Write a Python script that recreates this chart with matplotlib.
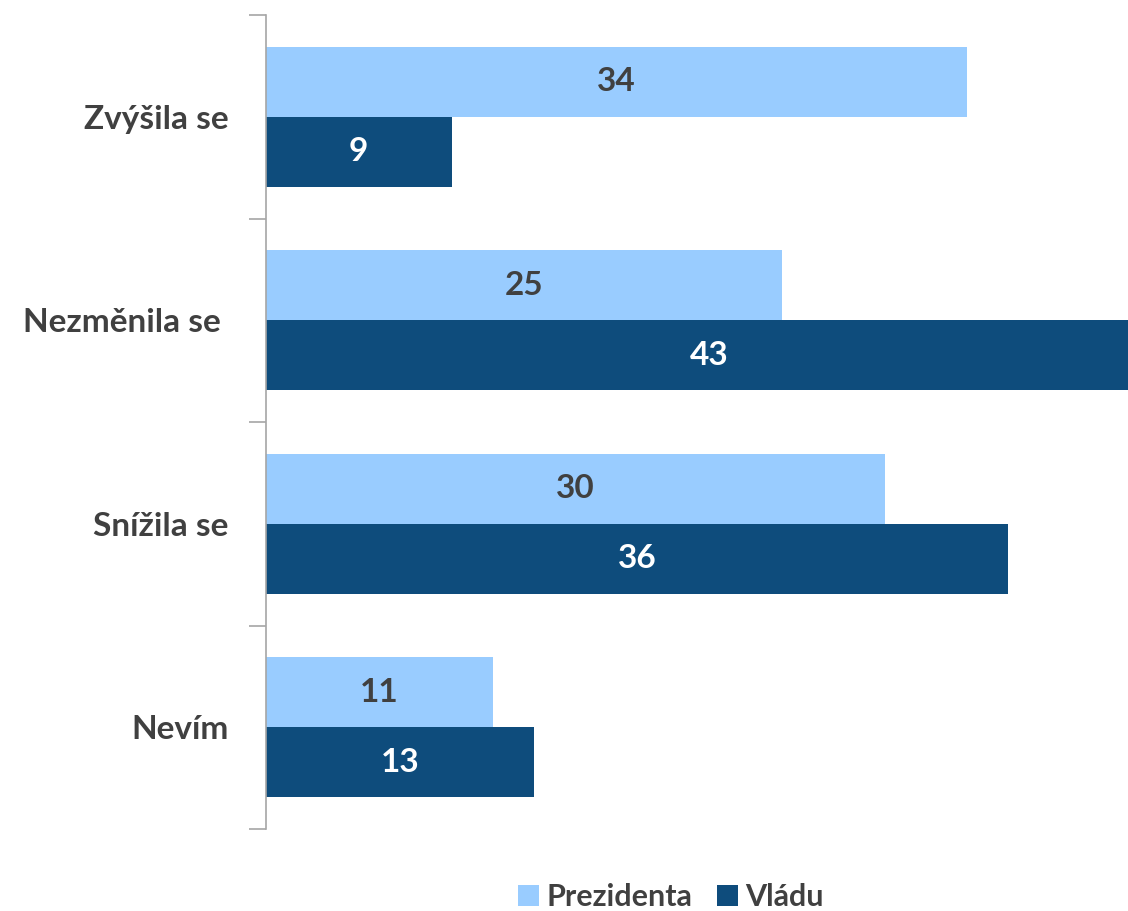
import matplotlib
matplotlib.use("Agg")
import matplotlib.pyplot as plt
import numpy as np

categories = ["Zvýšila se", "Nezměnila se ", "Snížila se", "Nevím"]
prezidenta = [34, 25, 30, 11]
vladu = [9, 43, 36, 13]
series_names = ["Prezidenta", "Vládu"]

plt.rcParams['font.family'] = ['Lato', 'DejaVu Sans']
text_color = "#404040"
c_light = "#99CCFF"
c_dark = "#0E4C7C"

fig = plt.figure(figsize=(11.28, 9.11), dpi=100)
ax = fig.add_axes([266/1128, 1-829/911, 1-266/1128, 814/911])

y = np.arange(len(categories))
h = 70/204
b1 = ax.barh(y - h/2, prezidenta, height=h, color=c_light, label=series_names[0])
b2 = ax.barh(y + h/2, vladu, height=h, color=c_dark, label=series_names[1])

for rect, v in zip(b1, prezidenta):
    ax.text(v/2, rect.get_y() + rect.get_height()/2, str(v), ha='center', va='center',
            fontsize=24, fontweight='bold', color=text_color)
for rect, v in zip(b2, vladu):
    ax.text(v/2, rect.get_y() + rect.get_height()/2, str(v), ha='center', va='center',
            fontsize=24, fontweight='bold', color='white')

ax.set_xlim(0, 862/20.62)
ax.set_ylim(3.5, -0.5)
ax.set_yticks(np.arange(-0.5, 4.0, 1.0))
ax.set_yticklabels([])
ax.set_yticks(y, minor=True)
ax.set_yticklabels(categories, minor=True, fontsize=24, fontweight='bold', color=text_color)
ax.tick_params(axis='y', which='major', length=12, width=1.2, color='#A6A6A6', direction='out')
ax.tick_params(axis='y', which='minor', length=0, pad=27)
ax.set_xticks([])
for s in ['top', 'right', 'bottom']:
    ax.spines[s].set_visible(False)
ax.spines['left'].set_color('#A6A6A6')
ax.spines['left'].set_linewidth(1.2)

leg = fig.legend(handles=[b1, b2], labels=series_names, loc='center', bbox_to_anchor=(671/1128, 1-897/911),
                 ncol=2, frameon=False, handlelength=0.68, handleheight=0.68,
                 handletextpad=0.25, columnspacing=0.8, prop={'weight': 'bold', 'size': 22})
for t in leg.get_texts():
    t.set_color(text_color)

fig.savefig("out.png", dpi=100)
